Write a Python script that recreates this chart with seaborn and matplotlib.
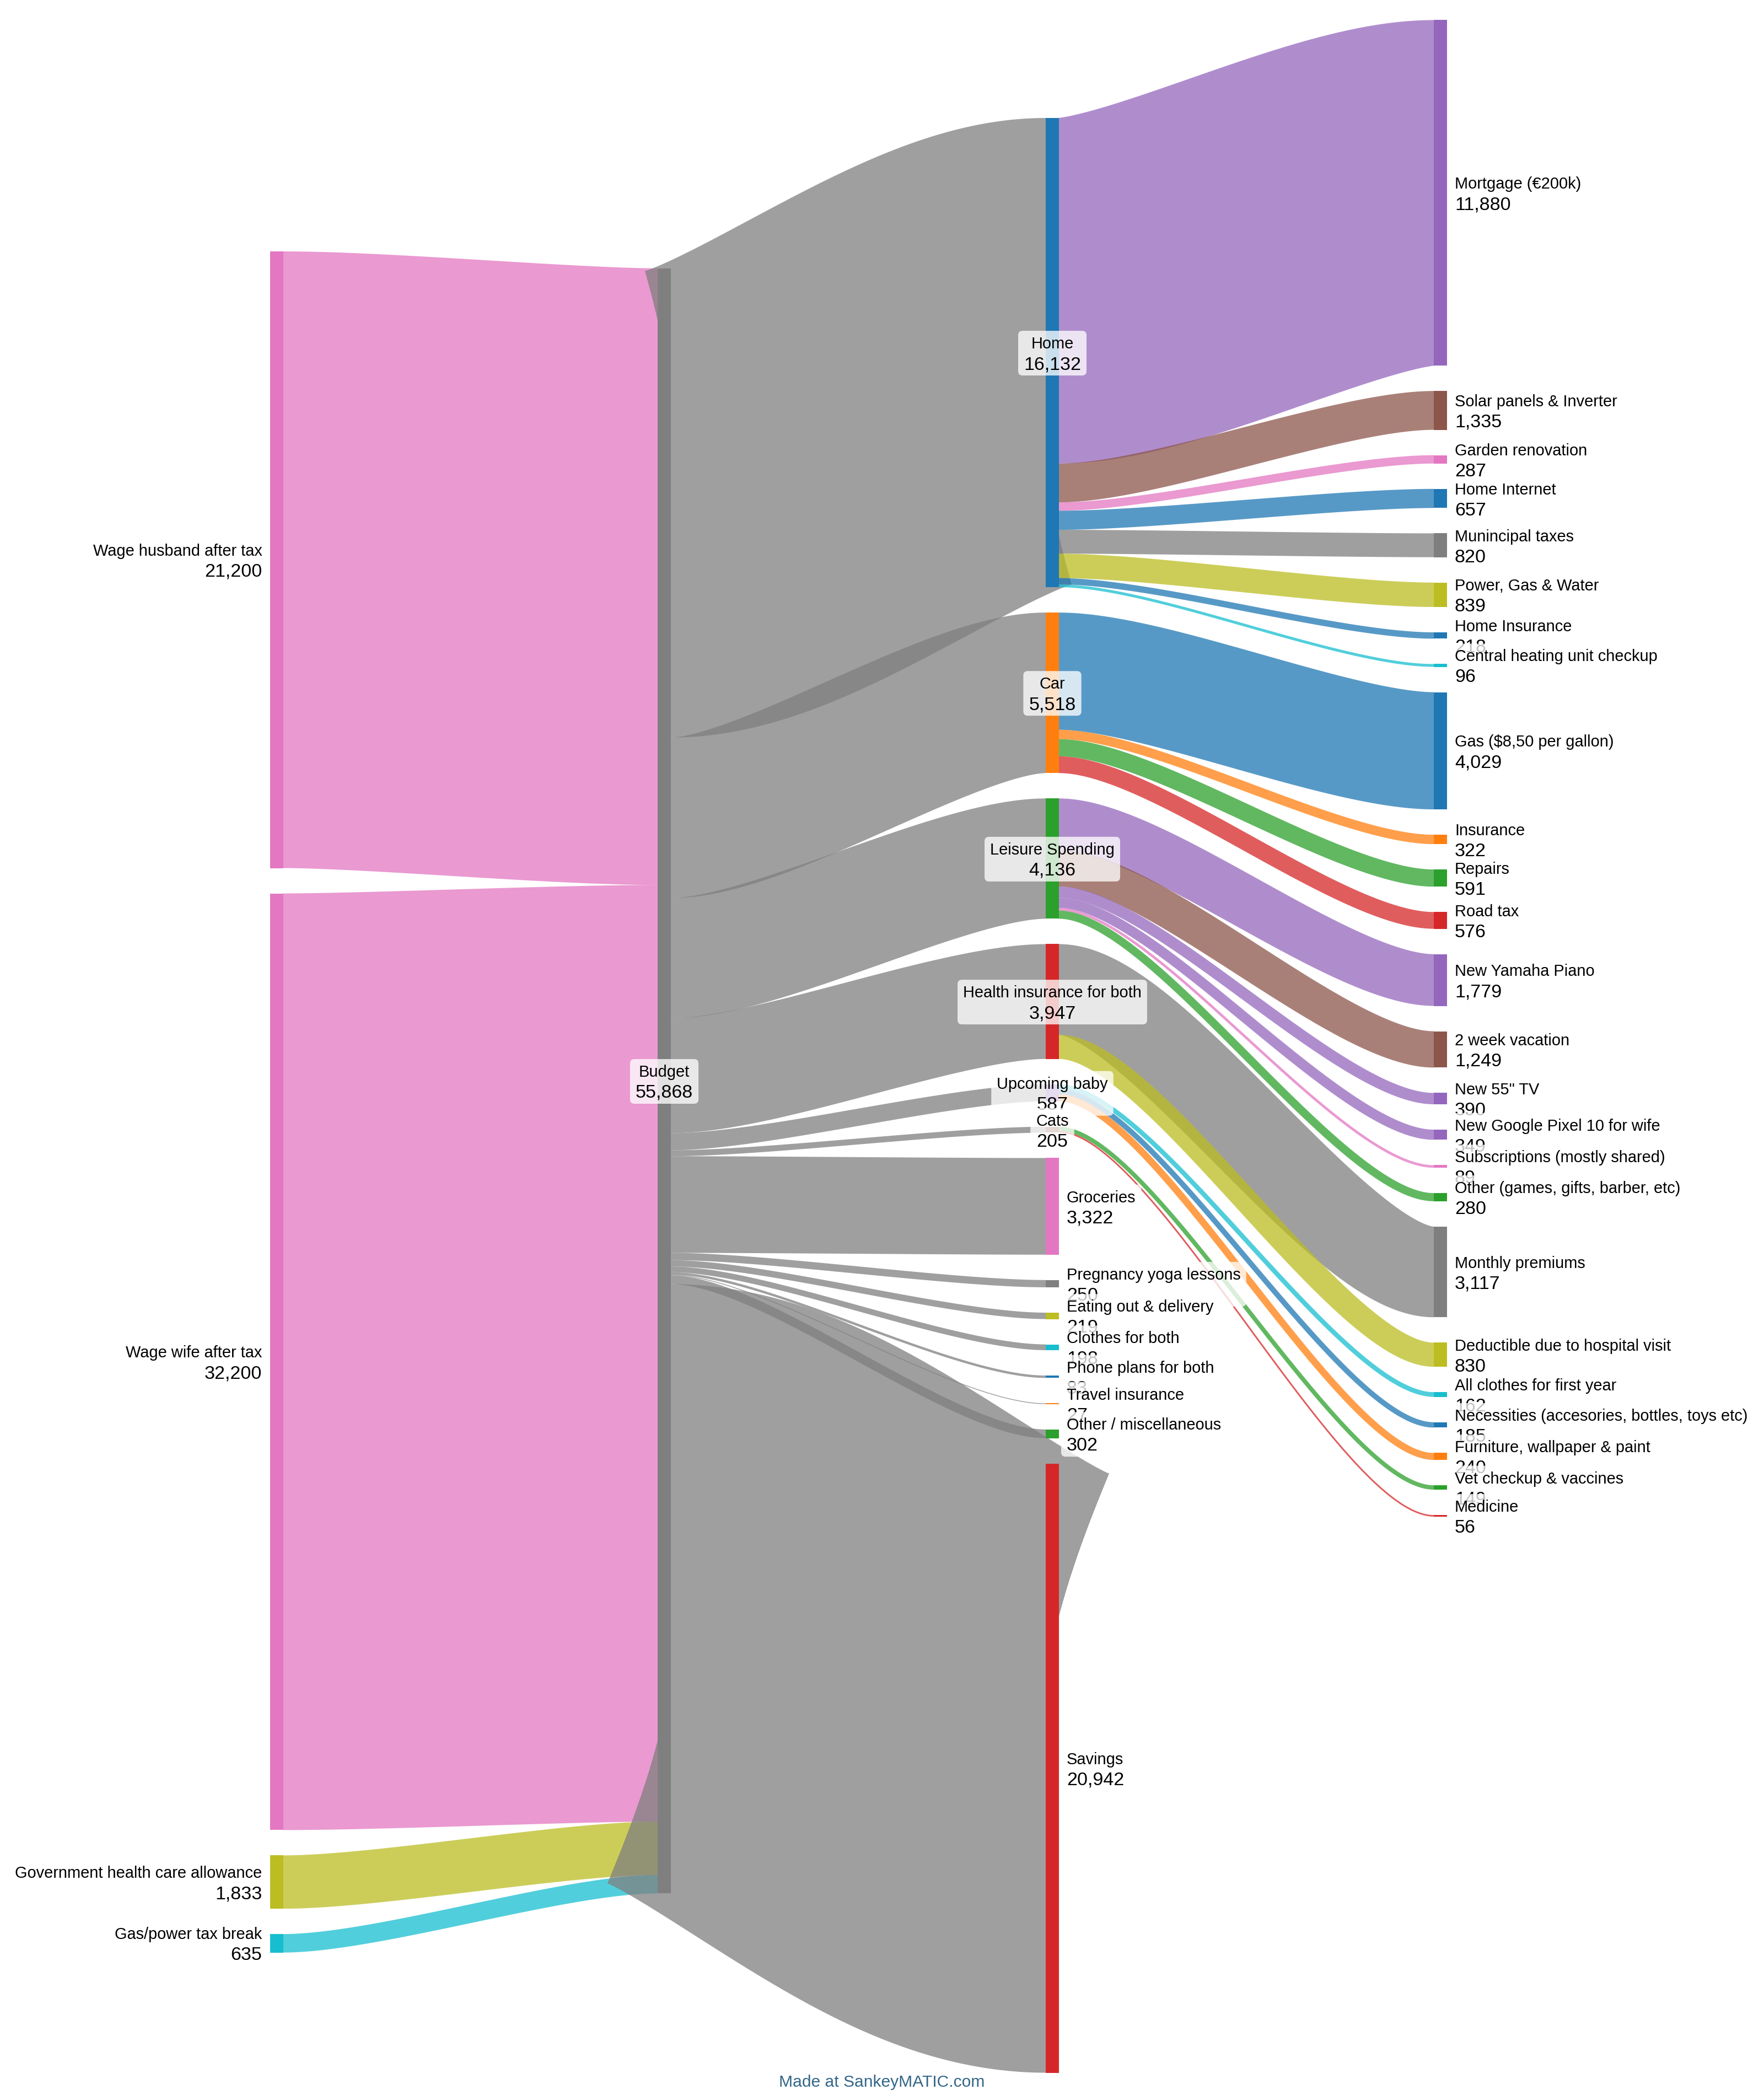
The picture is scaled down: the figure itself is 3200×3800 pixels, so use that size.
import numpy as np
import matplotlib
matplotlib.use("Agg")
import matplotlib.pyplot as plt
from matplotlib.path import Path
from matplotlib.patches import PathPatch, Rectangle, FancyBboxPatch
from matplotlib.transforms import Bbox
import seaborn as sns

# ---------------- data ----------------
income_names = ["Wage husband after tax", "Wage wife after tax",
                "Government health care allowance", "Gas/power tax break"]
income_values = [21200, 32200, 1833, 635]

hub_name = "Budget"

category_names = ["Home", "Car", "Leisure Spending", "Health insurance for both",
                  "Upcoming baby", "Cats", "Groceries", "Pregnancy yoga lessons",
                  "Eating out & delivery", "Clothes for both", "Phone plans for both",
                  "Travel insurance", "Other / miscellaneous", "Savings"]
category_values = [16132, 5518, 4136, 3947, 587, 205, 3322, 250, 219, 198, 83, 27, 302, 20942]

home_items = ["Mortgage (€200k)", "Solar panels & Inverter", "Garden renovation", "Home Internet",
              "Munincipal taxes", "Power, Gas & Water", "Home Insurance",
              "Central heating unit checkup"]
home_values = [11880, 1335, 287, 657, 820, 839, 218, 96]

car_items = ["Gas ($8,50 per gallon)", "Insurance", "Repairs", "Road tax"]
car_values = [4029, 322, 591, 576]

leisure_items = ["New Yamaha Piano", "2 week vacation", 'New 55" TV',
                 "New Google Pixel 10 for wife", "Subscriptions (mostly shared)",
                 "Other (games, gifts, barber, etc)"]
leisure_values = [1779, 1249, 390, 349, 89, 280]

health_items = ["Monthly premiums", "Deductible due to hospital visit"]
health_values = [3117, 830]

baby_items = ["All clothes for first year", "Necessities (accesories, bottles, toys etc)",
              "Furniture, wallpaper & paint"]
baby_values = [162, 185, 240]

cats_items = ["Vet checkup & vaccines", "Medicine"]
cats_values = [149, 56]

# ---------------- style ----------------
sns.set_theme(style="white")
plt.rcParams["font.family"] = ["Liberation Sans", "DejaVu Sans"]
tab = sns.color_palette("tab10").as_hex()

income_colors = [6, 6, 8, 9]
hub_color = 7
category_colors = [0, 1, 2, 3, 4, 5, 6, 7, 8, 9, 0, 1, 2, 3]
home_colors = [4, 5, 6, 0, 7, 8, 0, 9]
car_colors = [0, 1, 2, 3]
leisure_colors = [4, 5, 4, 4, 6, 2]
health_colors = [7, 8]
baby_colors = [9, 0, 1]
cats_colors = [2, 3]

children = {
    "Home": (home_items, home_values, home_colors),
    "Car": (car_items, car_values, car_colors),
    "Leisure Spending": (leisure_items, leisure_values, leisure_colors),
    "Health insurance for both": (health_items, health_values, health_colors),
    "Upcoming baby": (baby_items, baby_values, baby_colors),
    "Cats": (cats_items, cats_values, cats_colors),
}

W, H, DPI = 3200, 3800, 100
PX2PT = 72.0 / DPI
K = 0.05276          # pixels per unit
GAP = 46
NODE_W = 24
col_x = [489.5, 1193, 1897, 2601]
col_top = [456, 486.7, 214, 36.4]
CURVATURE = 0.25
FLOW_ALPHA = 0.75
NAME_PX, VALUE_PX = 29, 34

fig = plt.figure(figsize=(W / DPI, H / DPI), dpi=DPI)
ax = fig.add_axes([0, 0, 1, 1])
ax.set_xlim(0, W)
ax.set_ylim(H, 0)
ax.axis("off")

# ---------------- build graph ----------------
nodes = {}
order = [[], [], [], []]
links = []


def add_node(name, col, value, color):
    nodes[name] = dict(col=col, value=value, color=color)
    order[col].append(name)


for n, v, c in zip(income_names, income_values, income_colors):
    add_node(n, 0, v, tab[c])
add_node(hub_name, 1, sum(income_values), tab[hub_color])
for n, v, c in zip(income_names, income_values, income_colors):
    links.append((n, hub_name, v, tab[c]))
for n, v, c in zip(category_names, category_values, category_colors):
    add_node(n, 2, v, tab[c])
    links.append((hub_name, n, v, tab[hub_color]))
for parent in category_names:
    if parent in children:
        items, vals, cols = children[parent]
        for n, v, c in zip(items, vals, cols):
            add_node(n, 3, v, tab[c])
            links.append((parent, n, v, tab[c]))

for col in range(4):
    y = col_top[col]
    for name in order[col]:
        nd = nodes[name]
        h = nd["value"] * K
        nd["y0"], nd["y1"] = y, y + h
        nd["out"], nd["in"] = y, y
        y += h + GAP


def stroke_path(p0, p1, p2, p3, hw, n=400):
    """Area swept by a thick stroked cubic bezier (union of small triangles)."""
    t = np.linspace(0, 1, n)[:, None]
    P0, P1, P2, P3 = (np.array(p, float) for p in (p0, p1, p2, p3))
    B = ((1 - t) ** 3) * P0 + 3 * ((1 - t) ** 2) * t * P1 + 3 * (1 - t) * t ** 2 * P2 + t ** 3 * P3
    D = 3 * ((1 - t) ** 2) * (P1 - P0) + 6 * (1 - t) * t * (P2 - P1) + 3 * t ** 2 * (P3 - P2)
    D = D / np.linalg.norm(D, axis=1, keepdims=True)
    N = np.column_stack([-D[:, 1], D[:, 0]])
    L = B + hw * N
    R = B - hw * N
    verts, codes = [], []

    def tri(a, b, c):
        area = (b[0] - a[0]) * (c[1] - a[1]) - (c[0] - a[0]) * (b[1] - a[1])
        if area < 0:
            b, c = c, b
        verts.extend([a, b, c, a])
        codes.extend([Path.MOVETO, Path.LINETO, Path.LINETO, Path.CLOSEPOLY])

    for i in range(n - 1):
        tri(L[i], L[i + 1], R[i])
        tri(L[i + 1], R[i + 1], R[i])
    return Path(np.array(verts), codes)


# ---------------- flows ----------------
for src, tgt, v, color in links:
    s, t = nodes[src], nodes[tgt]
    w = v * K
    sy = s["out"] + w / 2
    s["out"] += w
    ty = t["in"] + w / 2
    t["in"] += w
    x0 = col_x[s["col"]] + NODE_W
    x1 = col_x[t["col"]]
    xa = x0 + CURVATURE * (x1 - x0)
    xb = x1 - CURVATURE * (x1 - x0)
    path = stroke_path((x0, sy), (xa, sy), (xb, ty), (x1, ty), max(w, 0.8) / 2)
    ax.add_patch(PathPatch(path, facecolor=color, edgecolor="none", alpha=FLOW_ALPHA,
                           zorder=1))

# ---------------- nodes ----------------
for name, nd in nodes.items():
    ax.add_patch(Rectangle((col_x[nd["col"]], nd["y0"]), NODE_W, nd["y1"] - nd["y0"],
                           facecolor=nd["color"], edgecolor="none", zorder=2))

# ---------------- labels ----------------
labels = []
z = 10
for col in range(4):
    for name in order[col]:
        nd = nodes[name]
        cy = (nd["y0"] + nd["y1"]) / 2
        if col == 0:
            x, ha = col_x[0] - 14, "right"
        elif col == 1 or (col == 2 and name in children):
            x, ha = col_x[col] + NODE_W / 2, "center"
        else:
            x, ha = col_x[col] + NODE_W + 14, "left"
        t1 = ax.text(x, cy - 7.5, name, fontsize=NAME_PX * PX2PT, ha=ha, va="baseline",
                     color="black", zorder=z + 1, parse_math=False)
        t2 = ax.text(x, cy + 30.5, f"{nd['value']:,}", fontsize=VALUE_PX * PX2PT, ha=ha,
                     va="baseline", color="black", zorder=z + 1, parse_math=False)
        labels.append((t1, t2, z))
        z += 2

ax.text(1600, 3785, "Made at SankeyMATIC.com", fontsize=30 * PX2PT, ha="center",
        va="baseline", color="#336688", zorder=100)

fig.canvas.draw()
renderer = fig.canvas.get_renderer()
inv = ax.transData.inverted()
for t1, t2, zz in labels:
    bb = Bbox.union([t1.get_window_extent(renderer), t2.get_window_extent(renderer)])
    (xa, ya), (xb, yb) = inv.transform([[bb.x0, bb.y0], [bb.x1, bb.y1]])
    left, right = min(xa, xb) - 10, max(xa, xb) + 10
    top, bottom = min(ya, yb) - 10, max(ya, yb) + 4
    ax.add_patch(FancyBboxPatch((left, top), right - left, bottom - top,
                                boxstyle="round,pad=0,rounding_size=8",
                                facecolor="white", edgecolor="none", alpha=0.77,
                                zorder=zz))

fig.savefig("out.png", dpi=DPI, facecolor="white")
